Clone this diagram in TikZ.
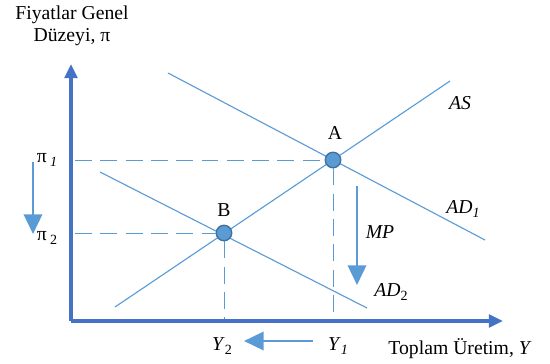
\documentclass[tikz,border=0pt]{standalone}
\usepackage{fontspec}
\setmainfont{Liberation Serif}
\usetikzlibrary{arrows.meta}
\definecolor{axisblue}{HTML}{4472C4}
\definecolor{lineblue}{HTML}{5B9BD5}
\definecolor{dotedge}{HTML}{41719C}
\newcommand{\lowsub}[1]{\raisebox{-0.35ex}{\fontsize{10}{10}\selectfont #1}}
\begin{document}
\begin{tikzpicture}[
    x=0.025cm, y=-0.025cm,
    every node/.style={font=\fontsize{14}{16}\selectfont, text=black},
    axis/.style={axisblue, line width=2.2pt, -{Triangle[length=10pt, width=9pt]}},
    curve/.style={lineblue, line width=0.8pt},
    guide/.style={lineblue, line width=0.7pt, dash pattern=on 12pt off 6pt},
    shift arrow/.style={lineblue, line width=2pt, -{Triangle[length=14pt, width=13pt]}},
    dot/.style={circle, fill=lineblue, draw=dotedge, line width=1pt, inner sep=0pt, minimum size=11pt}
]
    \useasboundingbox (0,0) rectangle (550,363);

    % --- AXES ---
    \coordinate (O) at (71,321);
    \coordinate (Ytop) at (71,64);
    \coordinate (Xend) at (503,321);

    % --- CURVES ---
    \coordinate (AS0) at (115,307);
    \coordinate (AS1) at (450,81);
    \coordinate (AD1a) at (168,73);
    \coordinate (AD1b) at (485,240);
    \coordinate (AD2a) at (100,172);
    \coordinate (AD2b) at (367,308);

    \draw[curve] (AS0) -- (AS1);
    \draw[curve] (AD1a) -- (AD1b);
    \draw[curve] (AD2a) -- (AD2b);

    % Equilibrium points
    \node[dot] (A) at (333,160) {};
    \node[dot] (B) at (224,233) {};

    % Guide lines to the axes
    \coordinate (P1) at (75,160);
    \coordinate (P2) at (75,233);
    \coordinate (Q1) at (333,321);
    \coordinate (Q2) at (224,321);
    \draw[guide] (P1) -- (A);
    \draw[guide] (P2) -- (B);
    \draw[guide] (A) -- (Q1);
    \draw[guide] (B) -- (Q2);

    \draw[axis] (O) -- (Ytop);
    \draw[axis] (O) -- (Xend);

    % --- LABELS ---
    \node[align=center] (title) at (72,26) {Fiyatlar Genel\\Düzeyi, π};
    \node (xlabel) at (460,349) {Toplam Üretim, \textit{Y}};
    \node (lA) at (335,133) {A};
    \node (lB) at (224,210) {B};
    \node (pi1) at (47,160) {π\,\lowsub{\textit{1}}};
    \node (pi2) at (47,238) {π\,\lowsub{2}};
    \node (y1) at (338,346) {\textit{Y}\lowsub{\textit{1}}};
    \node (y2) at (222,346) {\textit{Y}\lowsub{2}};
    \node (lAS) at (460,103) {\textit{AS}};
    \node (lAD1) at (463,209) {\textit{AD}\lowsub{\textit{1}}};
    \node (lAD2) at (391,292) {\textit{AD}\lowsub{2}};
    \node (lMP) at (380,232) {\textit{MP}};

    % --- SHIFT ARROWS ---
    \coordinate (s1) at (33,162);
    \coordinate (s2) at (33,234);
    \coordinate (m1) at (357,186);
    \coordinate (m2) at (357,285);
    \coordinate (h1) at (313,341);
    \coordinate (h2) at (244,341);
    \draw[shift arrow] (s1) -- (s2);
    \draw[shift arrow] (m1) -- (m2);
    \draw[shift arrow] (h1) -- (h2);

\end{tikzpicture}
\end{document}
